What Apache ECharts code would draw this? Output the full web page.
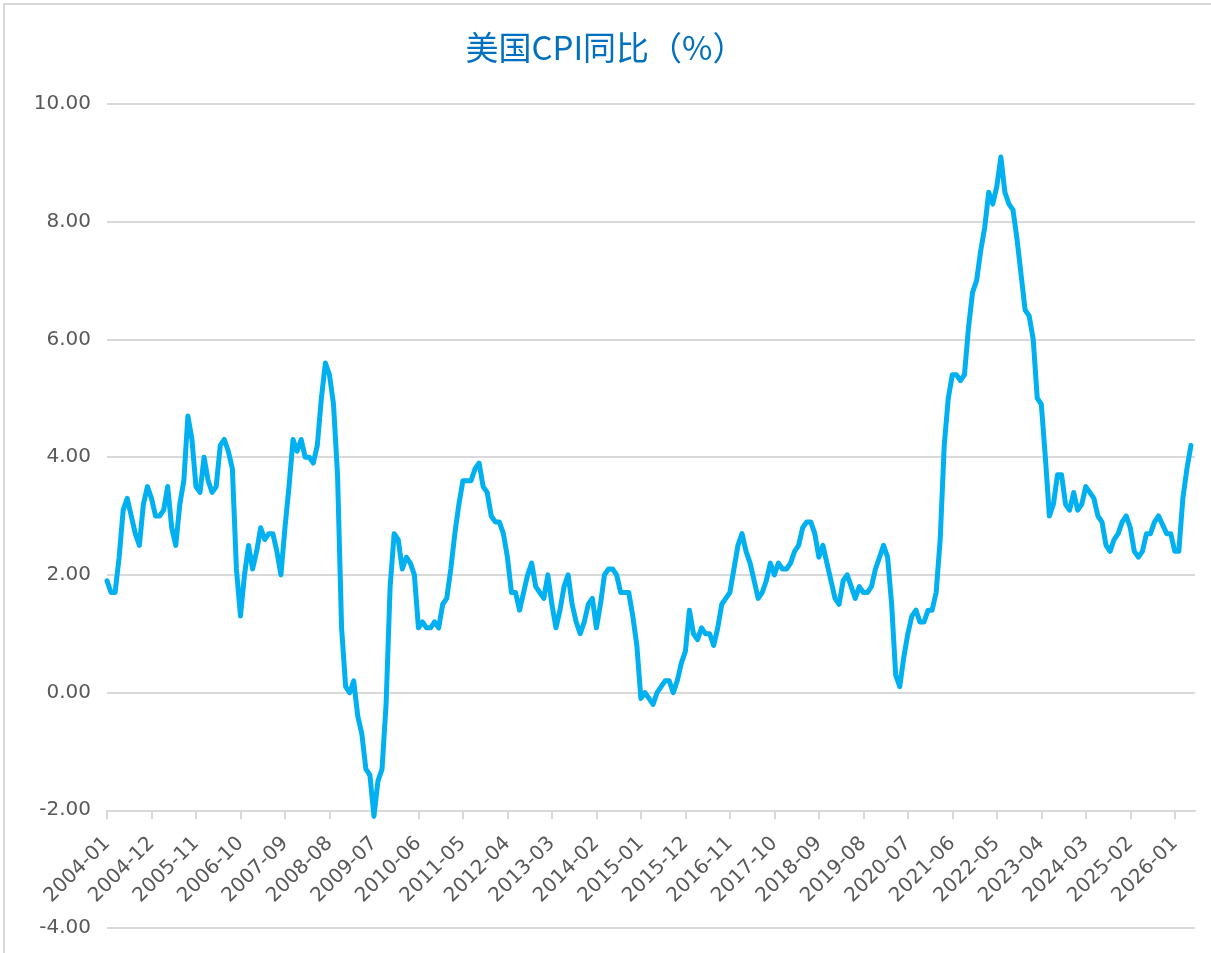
<!DOCTYPE html>
<html>
<head>
<meta charset="utf-8">
<script src="https://cdn.jsdelivr.net/npm/echarts@6/dist/echarts.min.js"></script>
<style>
  html, body { margin: 0; padding: 0; background: #ffffff; overflow: hidden; }
  #chart { width: 1211px; height: 953px; }
</style>
</head>
<body>
<div id="chart"></div>
<script>
// ---- Data ----
const chartTitle = '美国CPI同比（%）';
const startYear = 2004;
const monthCount = 270; // 2004-01 .. 2026-06

// Month categories (labels only)
const categories = [];
for (let i = 0; i < monthCount; i++) {
  const y = startYear + Math.floor(i / 12);
  const m = (i % 12) + 1;
  categories.push(y + '-' + (m < 10 ? '0' + m : m));
}

// US CPI year-over-year, %
const cpiYoY = [
  // 2004
  1.9, 1.7, 1.7, 2.3, 3.1, 3.3, 3.0, 2.7, 2.5, 3.2, 3.5, 3.3,
  // 2005
  3.0, 3.0, 3.1, 3.5, 2.8, 2.5, 3.2, 3.6, 4.7, 4.3, 3.5, 3.4,
  // 2006
  4.0, 3.6, 3.4, 3.5, 4.2, 4.3, 4.1, 3.8, 2.1, 1.3, 2.0, 2.5,
  // 2007
  2.1, 2.4, 2.8, 2.6, 2.7, 2.7, 2.4, 2.0, 2.8, 3.5, 4.3, 4.1,
  // 2008
  4.3, 4.0, 4.0, 3.9, 4.2, 5.0, 5.6, 5.4, 4.9, 3.7, 1.1, 0.1,
  // 2009
  0.0, 0.2, -0.4, -0.7, -1.3, -1.4, -2.1, -1.5, -1.3, -0.2, 1.8, 2.7,
  // 2010
  2.6, 2.1, 2.3, 2.2, 2.0, 1.1, 1.2, 1.1, 1.1, 1.2, 1.1, 1.5,
  // 2011
  1.6, 2.1, 2.7, 3.2, 3.6, 3.6, 3.6, 3.8, 3.9, 3.5, 3.4, 3.0,
  // 2012
  2.9, 2.9, 2.7, 2.3, 1.7, 1.7, 1.4, 1.7, 2.0, 2.2, 1.8, 1.7,
  // 2013
  1.6, 2.0, 1.5, 1.1, 1.4, 1.8, 2.0, 1.5, 1.2, 1.0, 1.2, 1.5,
  // 2014
  1.6, 1.1, 1.5, 2.0, 2.1, 2.1, 2.0, 1.7, 1.7, 1.7, 1.3, 0.8,
  // 2015
  -0.1, 0.0, -0.1, -0.2, 0.0, 0.1, 0.2, 0.2, 0.0, 0.2, 0.5, 0.7,
  // 2016
  1.4, 1.0, 0.9, 1.1, 1.0, 1.0, 0.8, 1.1, 1.5, 1.6, 1.7, 2.1,
  // 2017
  2.5, 2.7, 2.4, 2.2, 1.9, 1.6, 1.7, 1.9, 2.2, 2.0, 2.2, 2.1,
  // 2018
  2.1, 2.2, 2.4, 2.5, 2.8, 2.9, 2.9, 2.7, 2.3, 2.5, 2.2, 1.9,
  // 2019
  1.6, 1.5, 1.9, 2.0, 1.8, 1.6, 1.8, 1.7, 1.7, 1.8, 2.1, 2.3,
  // 2020
  2.5, 2.3, 1.5, 0.3, 0.1, 0.6, 1.0, 1.3, 1.4, 1.2, 1.2, 1.4,
  // 2021
  1.4, 1.7, 2.6, 4.2, 5.0, 5.4, 5.4, 5.3, 5.4, 6.2, 6.8, 7.0,
  // 2022
  7.5, 7.9, 8.5, 8.3, 8.6, 9.1, 8.5, 8.3, 8.2, 7.7, 7.1, 6.5,
  // 2023
  6.4, 6.0, 5.0, 4.9, 4.0, 3.0, 3.2, 3.7, 3.7, 3.2, 3.1, 3.4,
  // 2024
  3.1, 3.2, 3.5, 3.4, 3.3, 3.0, 2.9, 2.5, 2.4, 2.6, 2.7, 2.9,
  // 2025 (October missing, line connected)
  3.0, 2.8, 2.4, 2.3, 2.4, 2.7, 2.7, 2.9, 3.0, null, 2.7, 2.7,
  // 2026
  2.4, 2.4, 3.3, 3.8, 4.2, null
];

const yMin = -4, yMax = 10, yStep = 2;
const xAxisCross = -2; // value where the category axis crosses

// ---- Layout ----
const W = 1211, H = 953;
const gridLeft = 107, gridRight = 16, gridTop = 104, gridBottom = 25;
const gridHeight = H - gridTop - gridBottom;
const xAxisOffset = -((xAxisCross - yMin) / (yMax - yMin)) * gridHeight;

const labelFont = '"DejaVu Sans", sans-serif';
const gridColor = '#d9d9d9';
const textColor = '#595959';

const chart = echarts.init(document.getElementById('chart'), null, { renderer: 'canvas' });
chart.setOption({
  animation: false,
  backgroundColor: '#ffffff',
  title: {
    text: chartTitle,
    left: 'center',
    top: 26,
    textStyle: {
      color: '#0070C0',
      fontSize: 33,
      fontWeight: 'normal',
      fontFamily: '"Noto Sans CJK SC", sans-serif'
    }
  },
  graphic: [{
    type: 'polyline',
    shape: { points: [[4, H], [4, 4], [W, 4]] },
    style: { stroke: gridColor, lineWidth: 2, fill: null },
    silent: true
  }],
  grid: { left: gridLeft, right: gridRight, top: gridTop, bottom: gridBottom, containLabel: false },
  xAxis: {
    type: 'category',
    data: categories,
    boundaryGap: false,
    offset: xAxisOffset,
    axisLine: { show: true, onZero: false, lineStyle: { color: gridColor, width: 2 } },
    axisTick: { show: true, interval: 10, length: 9, inside: false, lineStyle: { color: gridColor, width: 2 } },
    axisLabel: {
      interval: 10,
      rotate: 45,
      margin: 30,
      color: textColor,
      fontSize: 20,
      fontFamily: labelFont
    },
    splitLine: { show: false }
  },
  yAxis: {
    type: 'value',
    min: yMin,
    max: yMax,
    interval: yStep,
    axisLine: { show: false },
    axisTick: { show: false },
    axisLabel: {
      margin: 16,
      color: textColor,
      fontSize: 20,
      fontFamily: labelFont,
      formatter: function (v) { return v.toFixed(2); }
    },
    splitLine: { show: true, lineStyle: { color: gridColor, width: 2 } }
  },
  series: [{
    type: 'line',
    data: cpiYoY,
    connectNulls: true,
    showSymbol: false,
    symbol: 'none',
    smooth: false,
    lineStyle: { color: '#00B0F0', width: 5, join: 'round', cap: 'round' },
    itemStyle: { color: '#00B0F0' }
  }]
});
</script>
</body>
</html>
